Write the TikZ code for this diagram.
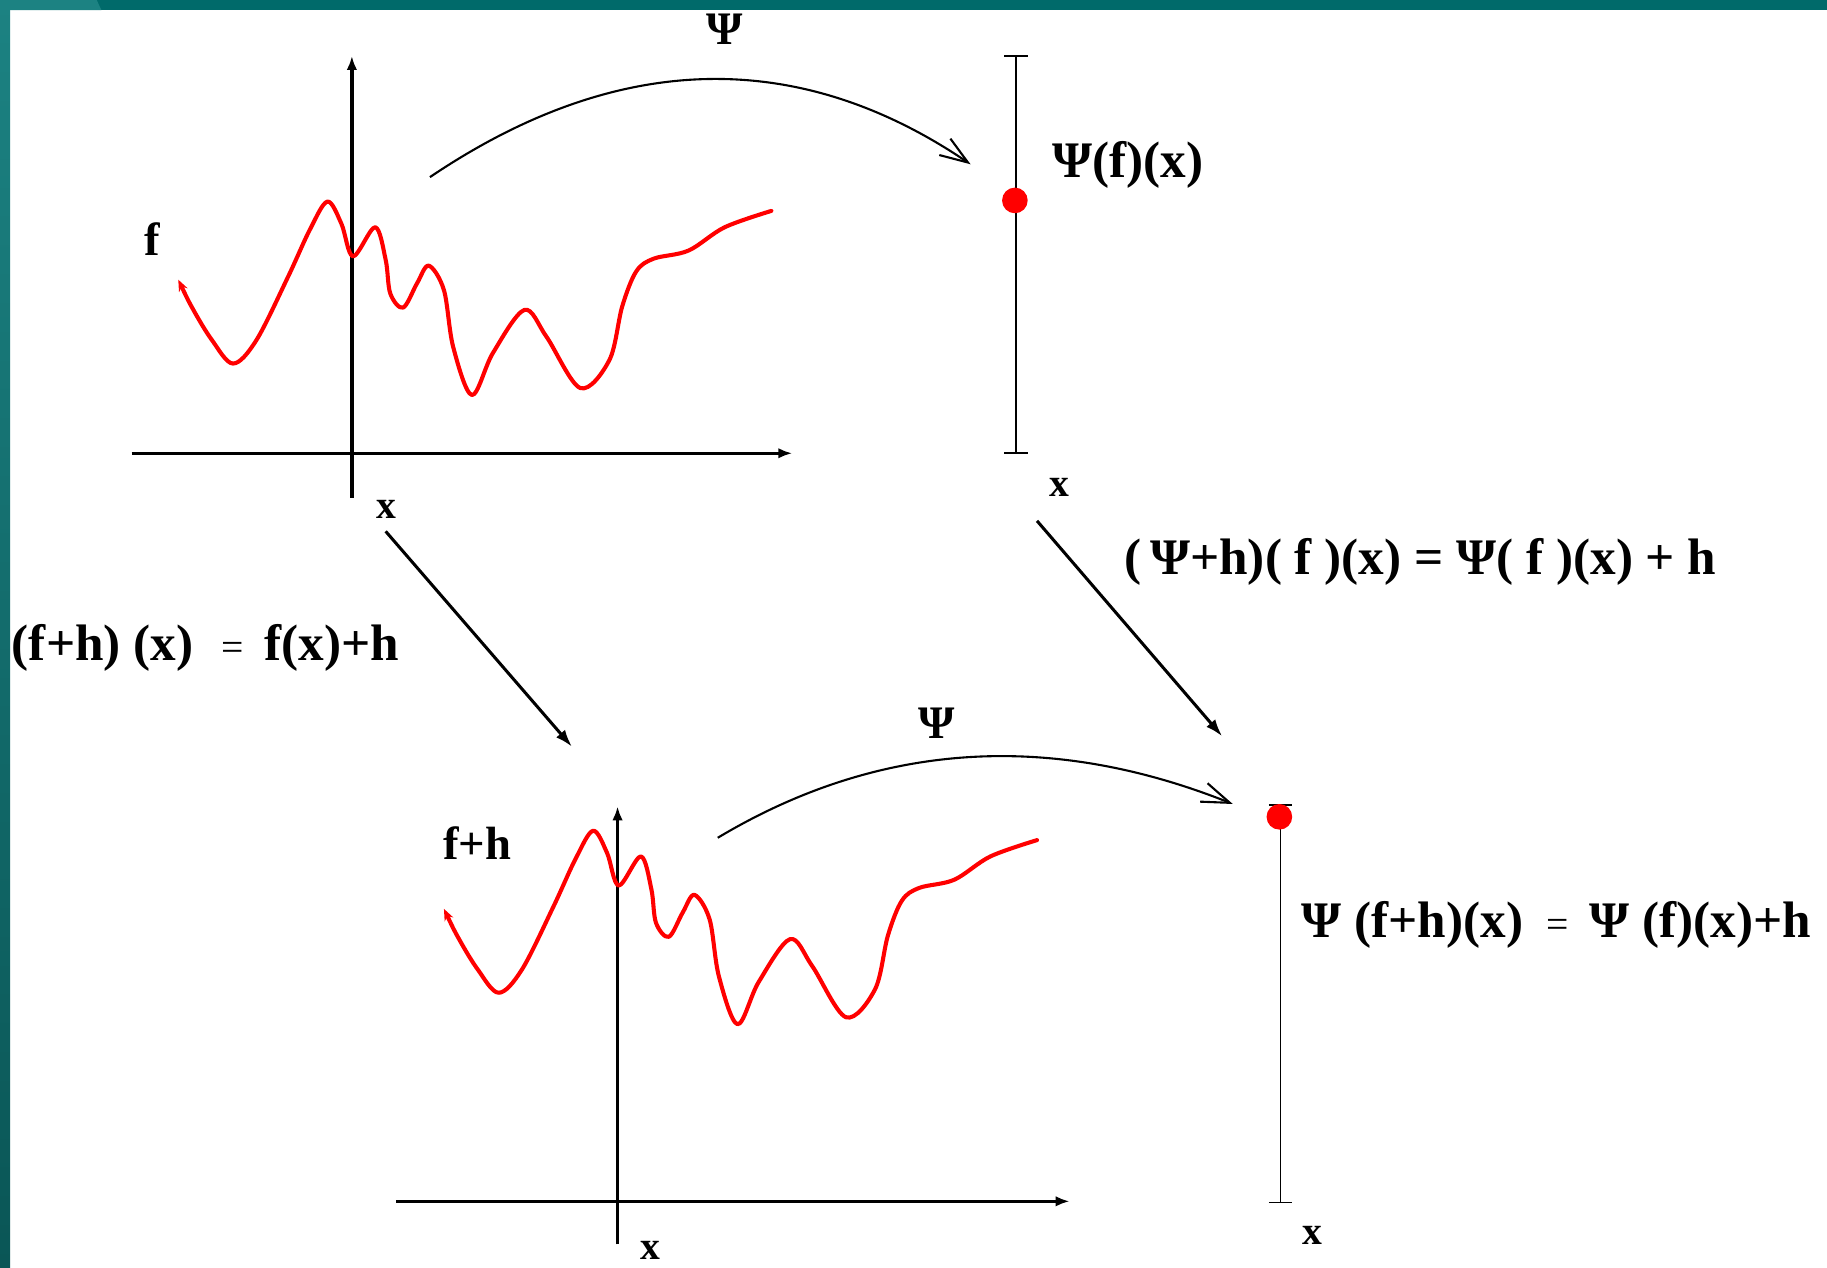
\documentclass[tikz,border=0pt]{standalone}
\usepackage{fontspec}
\setmainfont{Liberation Serif}
\usetikzlibrary{arrows.meta}
\definecolor{tealA}{RGB}{0,106,106}
\definecolor{tealB}{RGB}{28,130,130}
\definecolor{tealC}{RGB}{10,86,86}
\newcommand\eqsm{{\fontsize{34}{36}\selectfont\mdseries =}}
\begin{document}
\begin{tikzpicture}[x=1pt,y=-1pt,
  lbl/.style={inner sep=0pt,font=\fontsize{40}{44}\selectfont\bfseries},
  eqlbl/.style={inner sep=0pt,font=\fontsize{44}{48}\selectfont\bfseries},
  xl/.style={inner sep=0pt,font=\fontsize{34}{36}\selectfont\bfseries},
  axisline/.style={line width=2.8pt,-{Latex[length=12pt,width=9pt]}},
  fline/.style={red,line width=3.5pt,line join=round,line cap=round},
  barline/.style={line width=1.6pt},
  psimap/.style={line width=1.8pt,-{Straight Barb[length=24pt,width=17pt,line width=1.8pt]}},
  diagarrow/.style={line width=2.6pt,-{Latex[length=15pt,width=10pt]}},
  reddot/.style={circle,fill=red,inner sep=0pt,minimum size=22pt},
  fcurve/.pic={\draw[fline,{Stealth[length=10pt,width=8pt]}-] plot[smooth,tension=0.55] coordinates {
    (153,240) (166,266) (182,292) (200,312) (220,292) (247,238) (266,197) (281,173)
    (293,192) (303,220) (322,195) (331,223) (335,252) (346,264) (358,243) (368,228)
    (381,249) (389,298) (405,339) (423,303) (450,266) (469,289) (498,333) (523,309)
    (534,263) (546,233) (561,222) (591,215) (622,195) (662,181)};}]
\useasboundingbox (0,0) rectangle (1568,1088);
\fill[white] (0,0) rectangle (1568,1088);

% ---- top graph f
\draw[axisline] (113,389) -- (680,389);
\draw[axisline] (302,427) -- (302,48);
\pic at (0,0) {fcurve};
\node[lbl,anchor=base west] (f) at (124,219) {f};
\node[xl] (x1) at (332,437) {x};

% ---- top value bar
\draw[barline] (872,48) -- (872,389);
\draw[barline] (862,48) -- (882,48);
\draw[barline] (862,389) -- (882,389);
\node[reddot] (p1) at (871,172) {};
\node[eqlbl,anchor=base west] (v1) at (903,152) {Ψ(f)(x)};
\node[xl] (x2) at (909,418) {x};

% ---- top map
\coordinate (a1s) at (369,152);
\coordinate (a1e) at (833,141);
\draw[psimap] (a1s) .. controls (529,44) and (684,40) .. (a1e);
\node[lbl,anchor=base] (psi1) at (622,38) {Ψ};

% ---- diagonal arrows
\coordinate (d1s) at (331,456);
\coordinate (d1e) at (491,641);
\draw[diagarrow] (d1s) -- (d1e);
\coordinate (d2s) at (890,447);
\coordinate (d2e) at (1049,632);
\draw[diagarrow] (d2s) -- (d2e);

\node[eqlbl,anchor=base west] (eq1) at (10,567) {(f+h) (x)\hspace{24pt}\eqsm\hspace{18pt}f(x)+h};
\node[eqlbl,anchor=base west] (eq2) at (965,493) {(\,Ψ+h)( f )(x) = Ψ( f )(x) + h};

% ---- bottom graph f+h
\draw[axisline] (340,1031) -- (918,1031);
\draw[axisline] (530,1068) -- (530,692);
\pic at (228,540) {fcurve};
\node[lbl,anchor=base west] (fh) at (380,738) {f+h};
\node[xl] (x3) at (558,1073) {x};

% ---- bottom value bar
\draw[barline] (1099,691) -- (1099,1032);
\draw[barline] (1089,691) -- (1109,691);
\draw[barline] (1089,1032) -- (1109,1032);
\node[reddot] (p2) at (1098,701) {};
\node[eqlbl,anchor=base west] (eq3) at (1117,805) {Ψ (f+h)(x)\hspace{20pt}\eqsm\hspace{18pt}Ψ (f)(x)+h};
\node[xl] (x4) at (1126,1060) {x};

% ---- bottom map
\coordinate (a2s) at (616,719);
\coordinate (a2e) at (1058,690);
\draw[psimap] (a2s) .. controls (753,637) and (900,627) .. (a2e);
\node[lbl,anchor=base] (psi2) at (804,634) {Ψ};

% ---- frame
\shade[top color=tealB,bottom color=tealC] (0,0) rectangle (8.6,1088);
\fill[tealA] (0,0) rectangle (1568,8.6);
\fill[tealB] (0,0) -- (83,0) -- (87,8.6) -- (0,8.6) -- cycle;
\end{tikzpicture}
\end{document}
